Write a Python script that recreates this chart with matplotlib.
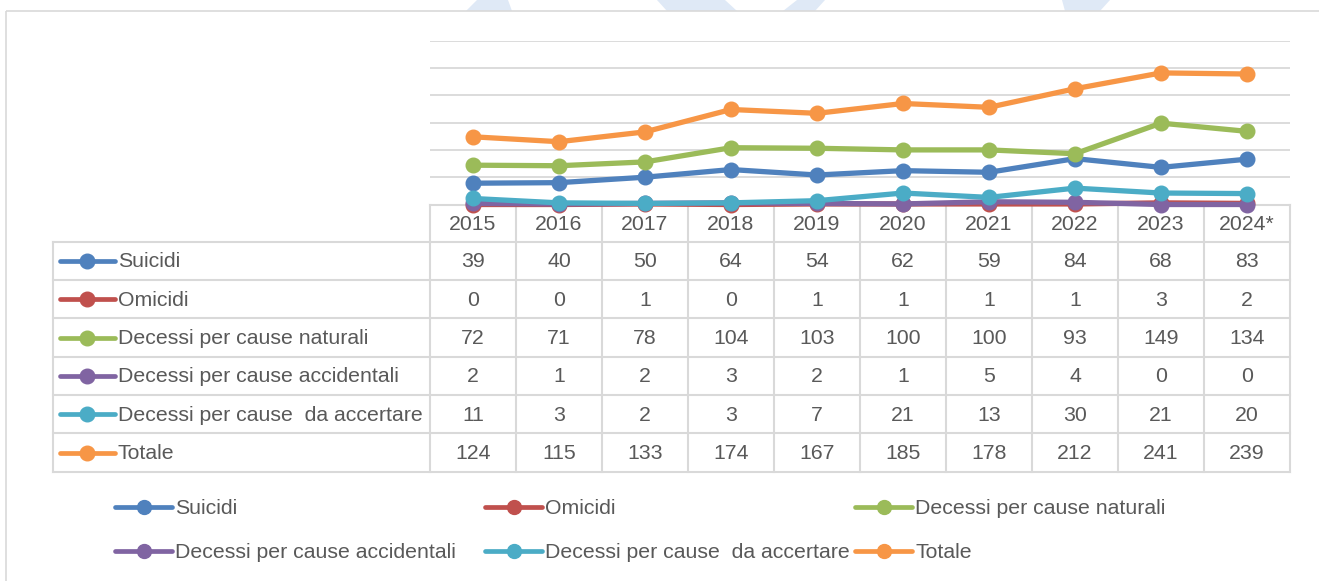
#!/usr/bin/env python3

""" Line chart with data table: deaths by cause, 2015-2024 """

import matplotlib
matplotlib.use("Agg")
import matplotlib.pyplot as plt
from matplotlib.patches import Polygon, Rectangle

plt.rcParams['font.family'] = ['Liberation Sans Narrow', 'Liberation Sans', 'DejaVu Sans']

years = ["2015", "2016", "2017", "2018", "2019", "2020", "2021", "2022", "2023", "2024*"]
suicidi = [39, 40, 50, 64, 54, 62, 59, 84, 68, 83]
omicidi = [0, 0, 1, 0, 1, 1, 1, 1, 3, 2]
naturali = [72, 71, 78, 104, 103, 100, 100, 93, 149, 134]
accidentali = [2, 1, 2, 3, 2, 1, 5, 4, 0, 0]
accertare = [11, 3, 2, 3, 7, 21, 13, 30, 21, 20]
totale = [124, 115, 133, 174, 167, 185, 178, 212, 241, 239]

names = ["Suicidi", "Omicidi", "Decessi per cause naturali",
         "Decessi per cause accidentali", "Decessi per cause  da accertare", "Totale"]
series = [suicidi, omicidi, naturali, accidentali, accertare, totale]
colors = ["#4F81BD", "#C0504D", "#9BBB59", "#8064A2", "#4BACC6", "#F79646"]

W, H = 1319, 581
GRID = "#d9d9d9"
TXT = "#595959"
FS = 15.3

fig = plt.figure(figsize=(W / 100, H / 100), dpi=100)

# overlay in pixel coordinates for frame, table and legend
bg = fig.add_axes([0, 0, 1, 1])
bg.set_xlim(0, W)
bg.set_ylim(H, 0)
bg.axis("off")

# faint watermark shapes peeking above the frame
for pts in [[(477, 0), (508, 0), (512, 11), (466, 11)],
            [(657, 0), (725, 0), (737, 11), (667, 11)],
            [(797, 0), (825, 0), (815, 11), (783, 11)],
            [(1062, 0), (1110, 0), (1100, 11), (1065, 11)]]:
    bg.add_patch(Polygon(pts, closed=True, color="#dfe9f6", lw=0))
bg.add_patch(Rectangle((6, 11), W, H, fill=False, ec=GRID, lw=1.2))

# plot area
px_l, px_r, px_t, px_b = 430, 1290, 40.7, 204.5
ax = fig.add_axes([px_l / W, 1 - px_b / H, (px_r - px_l) / W, (px_b - px_t) / H])
ax.patch.set_alpha(0)
x = list(range(len(years)))
for vals, c in zip(series, colors):
    ax.plot(x, vals, "-o", color=c, lw=3.8, ms=10.5, clip_on=False)
ax.set_xlim(-0.5, len(years) - 0.5)
ax.set_ylim(0, 300)
ax.set_yticks(range(50, 301, 50))
ax.grid(axis="y", color=GRID, lw=1.3)
ax.set_axisbelow(True)
ax.tick_params(left=False, bottom=False, labelleft=False, labelbottom=False)
for s in ax.spines.values():
    s.set_visible(False)

# data table
col_w = (px_r - px_l) / len(years)
tab_l = 53
row_top = 241.7
row_h = 38.33
n_rows = len(series)
tab_b = row_top + row_h * n_rows
kw = dict(color=GRID, lw=1.5)

bg.plot([px_l, px_r], [px_b, px_b], **kw)
for r in range(n_rows + 1):
    y = row_top + r * row_h
    bg.plot([tab_l, px_r], [y, y], **kw)
bg.plot([tab_l, tab_l], [row_top, tab_b], **kw)
for k in range(len(years) + 1):
    xc = px_l + k * col_w
    bg.plot([xc, xc], [px_b, tab_b], **kw)

for k, yr in enumerate(years):
    bg.text(px_l + (k + 0.5) * col_w, (px_b + row_top) / 2 + 1, yr,
            ha="center", va="center", fontsize=FS, color=TXT)

for r, (name, vals, c) in enumerate(zip(names, series, colors)):
    yc = row_top + (r + 0.5) * row_h
    bg.plot([60, 115], [yc, yc], color=c, lw=3.4, solid_capstyle="round")
    bg.plot([87], [yc], "o", color=c, ms=10.5)
    bg.text(118, yc + 1, name, ha="left", va="center", fontsize=FS, color=TXT)
    for k, v in enumerate(vals):
        bg.text(px_l + (k + 0.5) * col_w, yc + 1, str(v),
                ha="center", va="center", fontsize=FS, color=TXT)

# legend below the table
leg_x = [115, 485, 855]
leg_y = [507, 551]
for i, (name, c) in enumerate(zip(names, colors)):
    lx = leg_x[i % 3]
    ly = leg_y[i // 3]
    bg.plot([lx, lx + 57], [ly, ly], color=c, lw=3.4, solid_capstyle="round")
    bg.plot([lx + 28.5], [ly], "o", color=c, ms=10)
    bg.text(lx + 60, ly + 1, name, ha="left", va="center", fontsize=FS, color=TXT)

fig.savefig("out.png", dpi=100)
